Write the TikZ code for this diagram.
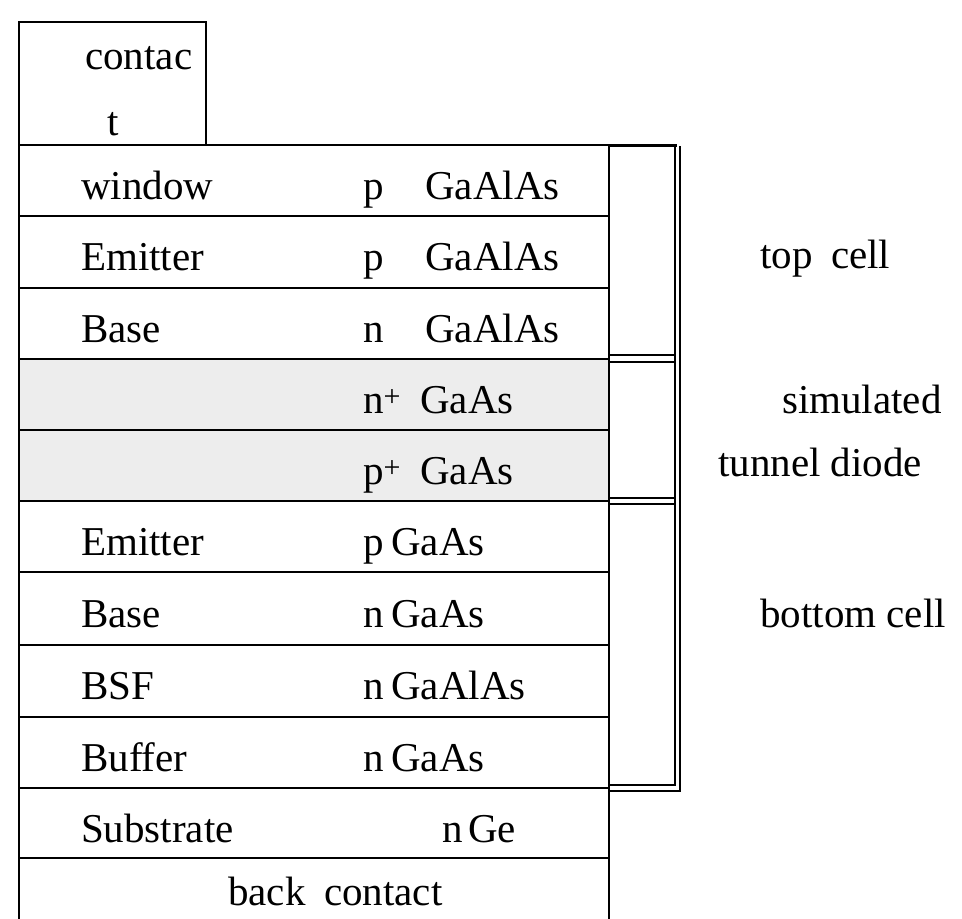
\documentclass[tikz,border=0pt]{standalone}
\usepackage{fontspec}
\setmainfont{Liberation Serif}
\begin{document}
\begin{tikzpicture}[x=1pt,y=-1pt,
  lbl/.style={anchor=base west, inner sep=0pt, font=\fontsize{41}{48}\selectfont},
  ln/.style={line width=1.8pt},
  thin/.style={line width=1.4pt},
]
\useasboundingbox (0,0) rectangle (962,919);
\begin{scope}
\clip (0,0) rectangle (962,919);
% stippled tunnel-diode layers
\fill[black!7] (19,359) rectangle (609,501);
% contact box
\draw[ln] (19,145) -- (19,22) -- (206,22) -- (206,145);
% layer stack
\draw[ln] (19,145) -- (19,930);
\draw[ln] (609,145) -- (609,930);
\foreach \y in {145,216,288,359,430,501,572,645,717,788,858}
  \draw[ln] (19,\y) -- (609,\y);
% bracket boxes
\draw[line width=3pt] (609,145) -- (677,145);
\draw[ln] (675,145) -- (675,785) -- (609,785);
\draw[ln] (609,355) -- (675,355);
\draw[ln] (609,362) -- (675,362);
\draw[ln] (609,498) -- (675,498);
\draw[ln] (609,504) -- (675,504);
\draw[thin] (680,146) -- (680,791) -- (609,791);
\end{scope}
% contact text
\node[lbl] (c1) at (85,69) {contac};
\node[lbl] (c2) at (107,135) {t};
% layer names
\node[lbl] (l1) at (81,199) {window};
\node[lbl] (l2) at (81,270) {Emitter};
\node[lbl] (l3) at (81,342) {Base};
\node[lbl] (l6) at (81,555) {Emitter};
\node[lbl] (l7) at (81,627) {Base};
\node[lbl] (l8) at (81,699) {BSF};
\node[lbl] (l9) at (81,771) {Buffer};
\node[lbl] (l10) at (81,842) {Substrate};
\node[lbl] (l11) at (228,905) {back\hspace{0.45em}contact};
% doping
\node[lbl] (d1) at (363,199) {p};
\node[lbl] (d2) at (363,270) {p};
\node[lbl] (d3) at (363,342) {n};
\node[lbl] (d4) at (363,413) {n\raisebox{0.35ex}{\fontsize{30}{30}\selectfont +}};
\node[lbl] (d5) at (363,484) {p\raisebox{0.35ex}{\fontsize{30}{30}\selectfont +}};
\node[lbl] (d6) at (363,555) {p};
\node[lbl] (d7) at (363,627) {n};
\node[lbl] (d8) at (363,699) {n};
\node[lbl] (d9) at (363,771) {n};
\node[lbl] (d10) at (442,842) {n};
% materials
\node[lbl] (m1) at (425,199) {GaAlAs};
\node[lbl] (m2) at (425,270) {GaAlAs};
\node[lbl] (m3) at (425,342) {GaAlAs};
\node[lbl] (m4) at (420,413) {GaAs};
\node[lbl] (m5) at (420,484) {GaAs};
\node[lbl] (m6) at (391,555) {GaAs};
\node[lbl] (m7) at (391,627) {GaAs};
\node[lbl] (m8) at (391,699) {GaAlAs};
\node[lbl] (m9) at (391,771) {GaAs};
\node[lbl] (m10) at (468,842) {Ge};
% cell labels
\node[lbl] (t1) at (760,268) {top\hspace{0.45em}cell};
\node[lbl] (t2) at (782,413) {simulated};
\node[lbl] (t3) at (718,476) {tunnel diode};
\node[lbl] (t4) at (760,627) {bottom cell};
\end{tikzpicture}
\end{document}
